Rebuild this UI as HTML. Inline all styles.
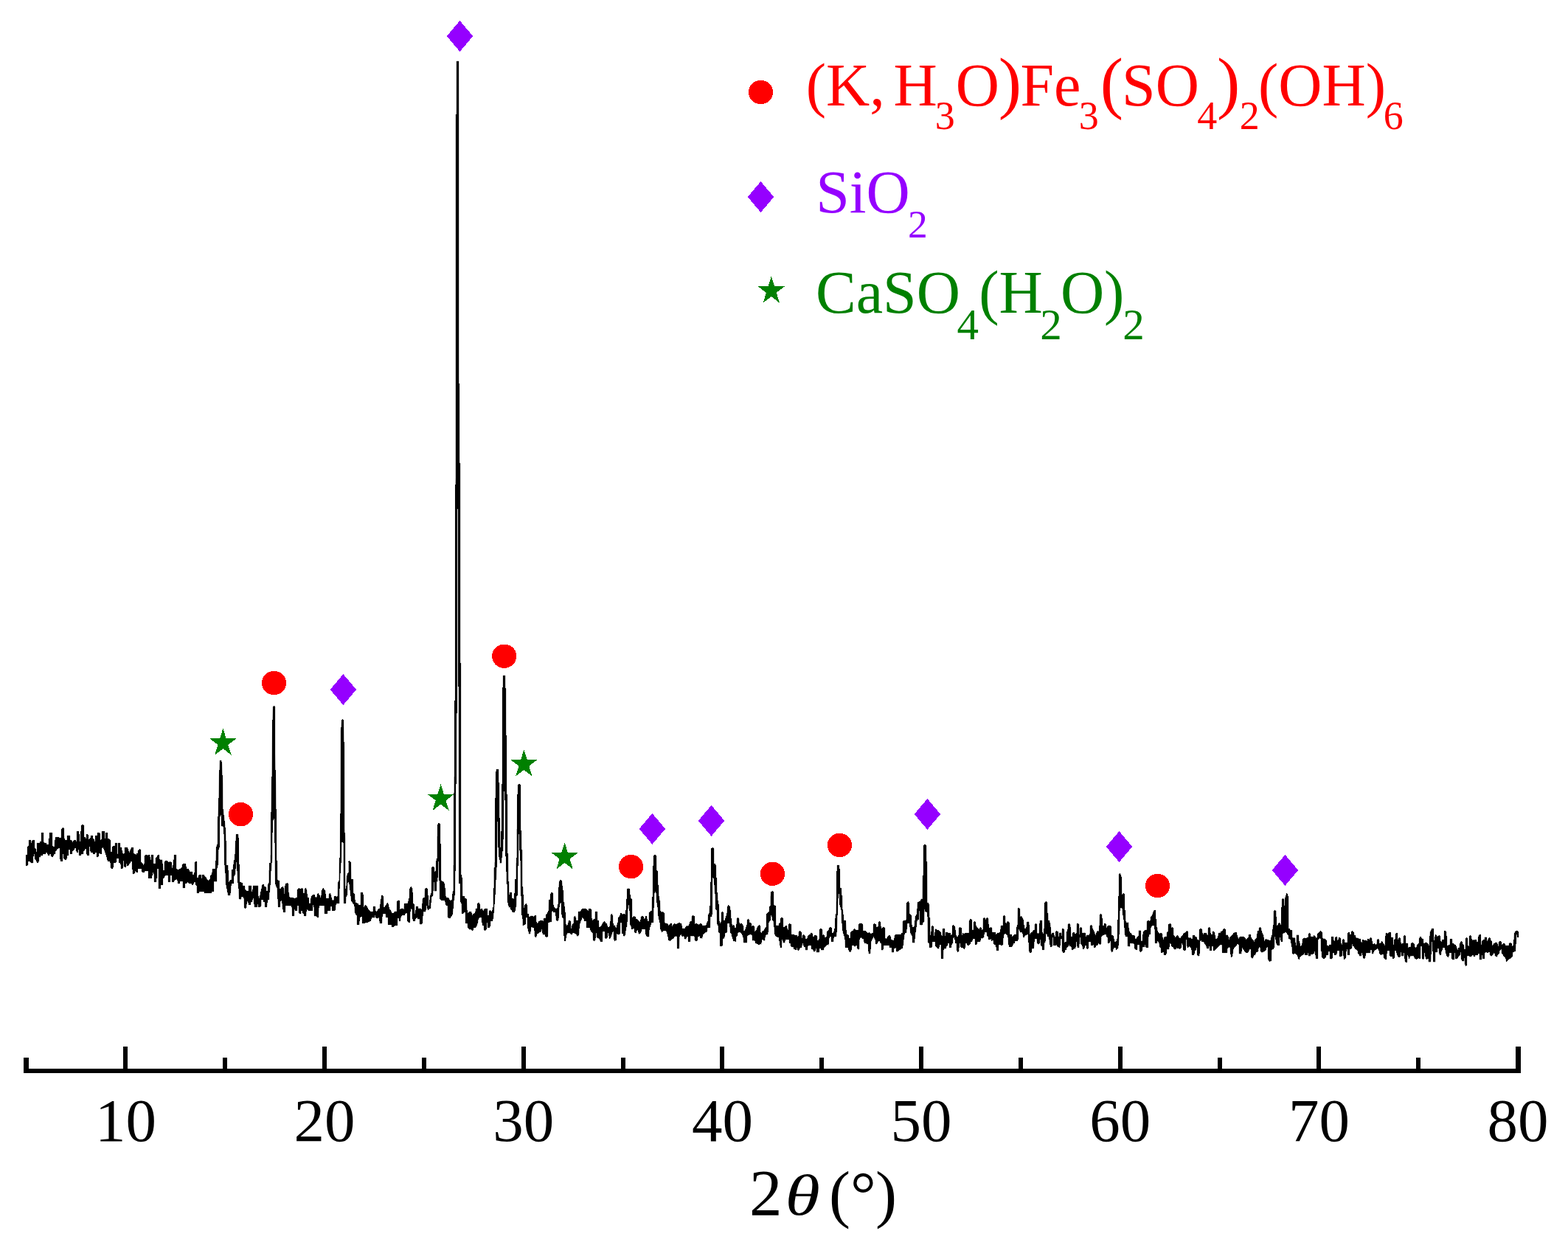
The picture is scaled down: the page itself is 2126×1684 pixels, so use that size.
<!DOCTYPE html>
<html lang="en">
<head>
<meta charset="utf-8">
<title>XRD pattern</title>
<style>
html,body{margin:0;padding:0;background:#fff;}
body{width:2126px;height:1684px;overflow:hidden;}
svg{display:block;}
text{font-family:"Liberation Serif",serif;}
</style>
</head>
<body>
<svg width="2126" height="1684" viewBox="0 0 2126 1684">
<rect x="0" y="0" width="2126" height="1684" fill="#ffffff"/>
<g id="curve" shape-rendering="crispEdges">
<path fill="#000" stroke="#000" stroke-width="0.3" stroke-linejoin="round" d="M35.3,1159.3 L37.1,1159.3 L37.1,1148.3 L39.2,1145.9 L39.2,1139.2 L41.8,1139.2 L41.8,1144 L44.1,1139.2 L46.7,1139.2 L46.7,1148.9 L48.8,1151.4 L48.8,1155.1 L50.2,1155.1 L50.2,1143.1 L54.3,1143.1 L54.3,1141 L56.1,1141 L56.1,1129.1 L58.9,1129.1 L58.9,1140.4 L60.4,1143.1 L62.8,1143.1 L63.4,1145.3 L65.9,1145.3 L65.9,1136.7 L67.1,1136.7 L67.1,1129.1 L70.8,1129.1 L70.8,1147.1 L73.5,1148.3 L73.5,1150.2 L74.4,1139.2 L75.3,1135.2 L80,1135.2 L81.2,1136.1 L83,1135.5 L83,1125.1 L85.2,1122 L86.7,1123.2 L86.7,1133 L87.9,1139.2 L91,1139.2 L91,1133 L94.9,1133 L94.9,1139.2 L97.1,1139.2 L98.3,1142.2 L99.5,1140.4 L100.8,1139.2 L102.8,1139.2 L102.8,1141 L104.2,1141 L104.2,1127.2 L106.9,1127.2 L106.9,1131.2 L107.7,1131.2 L107.7,1141 L109.3,1141 L109.3,1127.2 L110.2,1127.2 L110.2,1119 L111.8,1118.1 L113.8,1119 L113.8,1135.2 L116,1135.5 L116,1136.7 L117.3,1136.7 L117.3,1131.2 L118.5,1131.2 L119.7,1132.4 L119.7,1139.2 L121.6,1137.3 L123.1,1135.5 L123.1,1133 L125.8,1133 L125.8,1136.7 L127.7,1138.5 L128.3,1141 L129.3,1141 L129.3,1133 L132,1133 L132,1129.1 L135,1129.1 L135.6,1130.6 L135.6,1139.2 L136.8,1139.2 L138.1,1136.7 L138.1,1127.2 L141.7,1127.2 L141.7,1136.7 L143,1136.7 L143,1129.1 L145.8,1129.1 L145.8,1137.3 L147.9,1137.3 L149.9,1139.2 L149.9,1155.1 L150.7,1155.1 L150.9,1161.2 L152.1,1148.9 L153.4,1147.1 L155.8,1147.1 L156.1,1143.1 L158.6,1143.1 L158.6,1157.5 L160.1,1157.5 L160.1,1143.1 L162.8,1143.1 L162.8,1148.9 L165,1148.9 L165.6,1153.8 L166.8,1157.5 L168,1157.5 L169,1156.3 L169,1149.2 L172.9,1149.2 L174.4,1153.2 L175.4,1156.3 L176.6,1153.2 L178.1,1149.2 L180.7,1149.2 L180.7,1156.5 L183.3,1158.1 L184.6,1159.3 L185.2,1157.3 L187,1157.3 L187,1153.8 L189.5,1151.1 L190.9,1152.6 L190.9,1167.9 L192.5,1169.7 L194.4,1172.8 L195.8,1171 L195.8,1161.2 L197,1159.3 L199.6,1159.3 L199.6,1161.2 L200.8,1159.3 L203.3,1159.3 L203.8,1165.5 L205,1165.5 L205,1159.3 L207.8,1159.3 L207.8,1171 L210.9,1171 L210.9,1163.6 L212.7,1161.8 L213.9,1159.3 L215.8,1159.3 L215.8,1163.6 L217.2,1165.5 L219.7,1165.5 L220.7,1172.2 L221.3,1179.5 L222.7,1179.5 L222.7,1170.4 L224,1167.1 L226.8,1167.1 L228,1168.5 L229.5,1169.1 L230.4,1168.3 L232.5,1169.1 L232.9,1176.5 L233.9,1176.5 L234.7,1172.2 L234.7,1165.5 L236,1165.5 L236,1159.3 L238.8,1159.3 L238.8,1178.3 L240.2,1178.3 L241.5,1179.5 L243.9,1178.3 L246.4,1176.5 L247.2,1172.2 L248.2,1171.2 L251.6,1171.2 L252.5,1174.6 L253.3,1178.3 L255.5,1178.3 L257,1180.1 L257,1182 L260.8,1182 L261.3,1186.3 L262.9,1186.3 L262.9,1184.4 L264.1,1182.6 L264.1,1169.1 L265.7,1168.3 L266.8,1168.5 L266.8,1190.5 L269,1189.9 L269.6,1186.3 L272.7,1186.3 L272.7,1190.5 L273.9,1190.5 L273.9,1186.3 L276.6,1186.3 L278.2,1188.7 L280,1189.9 L280,1191.2 L282.2,1194.2 L284.9,1191.8 L285.3,1187.5 L287.1,1185.6 L288.1,1178.3 L291.8,1178.3 L292.4,1170.4 L293.2,1148.9 L295.1,1142.8 L295.2,1113.7 L296.3,1091.1 L297.2,1051.3 L298.1,1031.1 L300.3,1031.1 L300.8,1036.6 L302.1,1062.3 L302.4,1096.6 L304.3,1111.3 L306.1,1127.2 L306.7,1146 L306.7,1173.4 L309.4,1173.4 L309.8,1196.7 L312.2,1193.6 L314,1193 L314.3,1179.5 L315.9,1178.3 L317.1,1166.7 L318.3,1166.1 L318.7,1151.4 L319.6,1139.2 L320.2,1131.2 L322.9,1131.2 L323.5,1135.5 L323.8,1171 L324.7,1172.2 L324.7,1195.4 L328.7,1197.3 L329.3,1200.9 L331.8,1201.3 L332.4,1206.4 L334.8,1208.3 L337.1,1208.3 L337.1,1200.9 L340.7,1200.9 L340.7,1208.9 L342.2,1208.9 L343,1200.9 L349.8,1200.9 L349.8,1212.6 L351.4,1218.1 L352.2,1215 L353.8,1207.7 L355.6,1199.7 L357.5,1199.1 L358.7,1202.2 L360.8,1202.8 L361.2,1208.3 L363,1208.3 L363.6,1197.9 L364.5,1197.3 L364.5,1180.1 L365.4,1179.5 L365.4,1170.4 L366.7,1169.7 L366.7,1160 L367.3,1158.7 L367.3,1110 L368.5,1053.8 L369.4,979.1 L370.3,958.3 L371.6,957.1 L372.8,957.7 L372.9,1021.9 L374,1062.3 L374.6,1102.7 L374.7,1166.1 L375.8,1166.7 L376.1,1193 L378.7,1194.2 L378.9,1205.2 L380.7,1204.6 L382,1202.8 L383.8,1202.2 L384.6,1204 L385.6,1212.6 L386.2,1201.6 L387.5,1197.9 L389.3,1197.3 L390.9,1198.5 L391.1,1207.7 L392.7,1216.8 L397.9,1217.5 L399.1,1218.1 L402.8,1216.8 L403,1206.4 L405.2,1204 L406.8,1205.8 L407.6,1205.2 L409.5,1204.2 L410.7,1205.2 L411,1211.3 L412.5,1210.7 L413.4,1204.6 L415,1204 L416.2,1207.7 L416.8,1216.8 L418.7,1217.5 L419,1224.8 L421.1,1224.8 L421.7,1215.6 L424.4,1213.2 L426.6,1213.5 L427.2,1216.2 L429.1,1217.5 L430.3,1212.6 L431.5,1211.1 L433.3,1213.8 L434,1215.6 L435.2,1219.9 L435.8,1207.7 L438.2,1204 L441.3,1208.3 L441.9,1218.1 L445.6,1218.1 L446.2,1212 L448,1211.1 L449.2,1215.6 L450.5,1219.9 L452.3,1221.7 L452.9,1215.6 L455.4,1215 L456.6,1216.2 L457.8,1215 L458.4,1196.7 L459.6,1194.2 L460,1163.6 L461.1,1163 L461.5,1105.1 L462.1,991.3 L463.3,976.7 L464.5,975.4 L465.8,976.7 L466.7,1013.4 L467.2,1123.5 L468,1138.2 L468.2,1205.2 L469.4,1205.2 L469.7,1193 L470.7,1185 L472.5,1183.2 L472.5,1168.5 L473.7,1167.1 L475.6,1169.1 L476.2,1191.8 L478.6,1192.4 L479,1210.1 L481.1,1212.6 L481.7,1223.6 L485.3,1224.8 L486,1227.2 L489,1227.2 L489,1210.1 L491.7,1210.1 L492.7,1213.8 L492.9,1232.1 L494.2,1228.5 L495.4,1227.2 L497,1227.9 L498.8,1232.1 L501.2,1234.6 L502.5,1236.4 L505.5,1236.4 L506.1,1229.1 L508.6,1229.1 L509.2,1235.2 L510.4,1236.4 L513.5,1232.1 L515.1,1231.5 L515.7,1223.6 L517.2,1214.4 L518.4,1213.5 L519.6,1215.6 L520.6,1230.9 L523.3,1227.2 L525.1,1224.2 L526.3,1224.8 L528.2,1233.4 L530,1234 L531,1238.3 L534.1,1238.3 L534.7,1235.8 L538.1,1235.8 L538.4,1222.4 L540.2,1220.3 L541.8,1221.7 L542,1234 L543.9,1232.1 L545.7,1231.5 L547.5,1232.8 L548.1,1225.4 L553,1224.8 L554.3,1218.1 L555.1,1217.5 L555.5,1204.6 L557.3,1202.2 L559.4,1204.6 L559.8,1224.8 L561.6,1226 L562.2,1239.5 L563.4,1235.8 L564,1229.1 L566.5,1229.1 L567.1,1232.1 L568.3,1231.5 L570.4,1231.5 L571.1,1233.4 L572.4,1232.8 L572.6,1220.5 L573.8,1217.5 L575.7,1216.8 L576.3,1205.2 L578.1,1204 L579.7,1205.2 L580,1213.8 L580.8,1214.4 L581.2,1227.9 L582.4,1227.2 L582.6,1215.6 L584.2,1212 L585.1,1210.1 L585.5,1176.5 L587.1,1174.9 L588.8,1176.5 L589.1,1182 L591,1180.8 L591.6,1164.2 L592.6,1163.6 L592.6,1134.3 L593.4,1133.6 L593.4,1117.7 L595,1115.9 L596.8,1117.7 L596.8,1143.4 L597.7,1144.7 L597.9,1191.8 L598.9,1194.8 L601.4,1195.4 L602.6,1197.9 L603.8,1206.4 L604.4,1215 L605.6,1217.5 L608.1,1217.2 L609.9,1220.5 L611.8,1220.5 L613.2,1219.3 L613.6,1209.5 L614.5,1208.3 L614.5,1173.4 L615.4,1172.8 L615.4,1106 L615.6,1053.5 L616.3,1052.9 L616.4,950.1 L617.3,948.9 L617.4,659.5 L617.9,647.3 L618,155.4 L619,154.2 L619.1,83 L622,83 L622.2,157.9 L622.3,520 L622.8,520 L622.9,627.7 L624,627.7 L624.1,898.1 L624.9,899.3 L625,1100 L625.1,1185.6 L625.8,1186.3 L626.7,1190.5 L627.1,1215 L629.5,1215.3 L630.7,1218.1 L632.6,1218.7 L633.2,1228.5 L633.8,1238.3 L636.2,1236.4 L639.3,1236.4 L639.9,1241.9 L641.7,1238.9 L644.2,1238.3 L645,1232.1 L647.2,1231.5 L647.5,1224.8 L649.1,1223.9 L650.6,1226 L650.9,1232.8 L654,1232.1 L655.2,1235.8 L656.4,1232.8 L657.6,1232.1 L660.7,1232.1 L661,1241.9 L662.5,1240.7 L663.2,1235.2 L664.6,1234.3 L666.2,1235.8 L667.4,1235.2 L667.7,1230.9 L668.7,1229.7 L668.7,1205.2 L669.5,1204 L669.5,1177.1 L670.5,1175.9 L670.5,1169.7 L671.2,1168.5 L671.4,1106 L671.5,1082.3 L672.1,1081 L672.3,1048 L672.9,1043.1 L676,1043.1 L676.1,1060.2 L676.9,1061.5 L677,1106 L677.2,1108.6 L677.8,1109.8 L678,1148.9 L679.1,1148.9 L679.3,1127.5 L680.2,1126.9 L680.3,1106 L680.4,1063.3 L681.1,1062.7 L681.3,932.4 L682.1,931.8 L682.2,915.9 L684.9,915.9 L685.1,933 L686,933.6 L686.2,996.6 L686.8,997.2 L686.9,1076.1 L687.7,1076.8 L687.9,1106 L688,1156.9 L688.8,1157.5 L689.5,1194.8 L690.1,1195.4 L690.3,1213.2 L691.3,1213.8 L691.4,1210.1 L693.7,1210.1 L694,1218.1 L696.2,1218.1 L696.8,1220.5 L697.2,1212 L698.4,1210.1 L698.5,1192.4 L699.6,1191.8 L699.7,1170.4 L700.5,1169.7 L700.6,1124.5 L701.2,1123.9 L701.3,1106 L701.5,1077.4 L702.3,1076.1 L702.4,1064.5 L703.2,1063.3 L705.1,1063.3 L705.9,1064.5 L706,1100 L706.1,1125.7 L706.8,1126.3 L707.2,1152 L708.1,1152.6 L708.4,1202.2 L709,1202.8 L709.6,1214.4 L710.3,1232.1 L711.5,1227.2 L713.3,1225 L714.8,1227.2 L715.2,1238.9 L716.7,1239.5 L717.2,1242.5 L718.8,1243.2 L719.4,1241.9 L721.9,1241.9 L723.7,1243.2 L724.9,1241.3 L726.8,1241.3 L727,1249.9 L729.2,1252.3 L730.4,1249.3 L732.3,1248.3 L735.3,1248.3 L736.8,1249.3 L737.2,1245.6 L739,1244.4 L740.2,1245.6 L740.5,1240.1 L742.1,1238.3 L743.9,1234.6 L744.5,1219.9 L746.1,1219.3 L746.4,1212 L747.8,1210.1 L749.7,1210.7 L750,1225.4 L751.2,1229.1 L753.1,1232.1 L755.5,1231.5 L756.8,1224.8 L757.4,1203.4 L758.6,1194.2 L760.1,1193 L761.6,1194.2 L762.3,1197.9 L762.9,1206.4 L763.7,1207.7 L764.1,1223 L765.1,1223.6 L765.9,1234.6 L766.8,1238.3 L767.2,1252.9 L768.4,1254.8 L770.2,1252.9 L770.8,1248.7 L772.7,1248 L773.9,1249.3 L774.3,1259.1 L775.1,1259.1 L775.7,1252.9 L777.6,1252.3 L778.2,1243.2 L780,1241.9 L780,1243.6 L780.8,1243.6 L781.3,1247.9 L783.5,1247.9 L784.1,1236.2 L786.5,1235.6 L789.6,1232.3 L793.9,1232 L796.3,1233.8 L797.9,1235 L798.4,1232.3 L801.2,1232.3 L802.1,1233.8 L802.4,1244.8 L803.6,1248.5 L804.5,1246.6 L806.7,1246 L807,1236.2 L809.8,1236.2 L810,1247.2 L811.6,1248.5 L812.2,1257 L814,1257 L815.9,1254 L817.7,1250.9 L819.6,1249.1 L821.4,1251.5 L823.2,1252.8 L823.8,1257.6 L826.3,1257 L827.5,1249.7 L828.1,1240.5 L829.6,1239.3 L830.8,1241.1 L831.2,1250.9 L832.4,1254.6 L834.2,1254.6 L834.8,1258.3 L836.1,1257.6 L836.7,1252.8 L837.9,1249.7 L838.5,1243.6 L840.4,1241.7 L841,1238.4 L842.2,1238.1 L844,1239.9 L845.9,1239.3 L847.7,1239.9 L848.3,1234.4 L849.3,1233.8 L849.5,1219.1 L850.4,1217.9 L850.4,1205.6 L852,1204.2 L853.8,1205.6 L854.2,1213 L855,1214.2 L855.3,1217.9 L856.9,1219.1 L857.1,1244.8 L858.7,1243 L859.9,1242.1 L861.8,1243.6 L862.4,1246 L864.8,1246.6 L866,1248.5 L867.3,1250.9 L868.5,1247.2 L869.1,1243 L870.6,1242 L872.5,1243 L873,1246 L874.6,1245.4 L875.5,1242.4 L877.1,1242.4 L877.9,1248.5 L879.5,1249.1 L880.1,1237.5 L882,1235.6 L883.8,1234.4 L884.2,1216.7 L885.3,1215.4 L885.3,1173.8 L886.2,1173.2 L886.2,1160.4 L888.1,1158.9 L889.9,1160.4 L890.2,1180 L891.7,1181.2 L892,1199.5 L893,1200.1 L893.6,1217.9 L894.8,1221.6 L895.4,1234.4 L897.2,1237.5 L897.9,1236.2 L899.7,1236.8 L900.9,1238.1 L901.2,1249.7 L902.1,1252.1 L904.6,1252.1 L905.8,1253.4 L906.4,1255.2 L908.3,1252.8 L909.5,1251.5 L910.7,1252.1 L911.3,1255.8 L913.2,1253.4 L914.4,1252.1 L916.2,1252.8 L918,1252.8 L919.9,1251.5 L921.7,1251.2 L924.4,1252.8 L924.8,1258.9 L928.4,1258.9 L930.3,1256.4 L931.5,1255.2 L933.3,1255.8 L934.6,1252.8 L935.8,1249.1 L937.4,1249.7 L938.2,1242.4 L939.8,1240.9 L941.5,1242.4 L941.9,1252.8 L944.4,1252.1 L946.2,1252.8 L947.4,1254 L948.6,1252.8 L950.1,1252.1 L951.7,1253.4 L952.9,1255.2 L957.2,1254.6 L958.4,1251.5 L959,1249.7 L959.9,1248.5 L960.3,1240.5 L961.5,1238.1 L962.1,1228.9 L963.1,1227.7 L963.3,1195.9 L964.3,1194.6 L964.3,1150.6 L966.1,1149 L968,1150.6 L968.2,1171.4 L969.7,1171.4 L970.7,1173.2 L970.9,1189.7 L971.9,1191 L972.1,1209.9 L973.1,1211.2 L973.7,1225.2 L974.6,1226.4 L974.9,1242.4 L975.8,1252.1 L976.8,1251.5 L978,1248.5 L978.2,1236.8 L979.5,1236.2 L980.7,1236.8 L981.1,1247.9 L982.9,1247.9 L984.1,1242.4 L985.3,1240.5 L986.3,1228.9 L987.8,1227.1 L989.6,1228.9 L990,1233.2 L990.8,1233.8 L991.2,1244.8 L992.1,1246 L992.7,1255.8 L993.9,1254.6 L995.1,1254 L996.4,1258.3 L997.8,1257.6 L998.8,1250.9 L999.4,1245.4 L1000.6,1244.2 L1002.1,1246 L1002.5,1250.9 L1003.7,1252.8 L1004.9,1251.5 L1006.8,1253.4 L1008,1255.8 L1008.6,1262.5 L1010.4,1260.7 L1011.6,1257 L1012.9,1253.4 L1013.2,1247.2 L1014.5,1246 L1015.9,1247.2 L1016.2,1250.9 L1018.4,1251.5 L1019.2,1255.8 L1020.8,1255.2 L1022.7,1255.8 L1023.5,1262.5 L1025.1,1261.9 L1026.9,1257 L1028.4,1255.2 L1030,1254 L1030,1254.6 L1031,1256.4 L1031.3,1264.4 L1032.8,1265 L1033.7,1262.5 L1035.3,1261.9 L1037.1,1258.9 L1038.4,1257.6 L1039,1256.4 L1039.2,1239.3 L1041.4,1237.5 L1043,1235.6 L1043.2,1229.5 L1044.5,1228.3 L1044.5,1215.4 L1045.1,1214.2 L1045.4,1209.3 L1047.2,1208.1 L1048.9,1209.3 L1049.1,1226.4 L1050.6,1227.7 L1051.8,1228.3 L1052.1,1254.6 L1055.7,1255.2 L1056.1,1252.8 L1057.3,1251.5 L1058.2,1250.9 L1058.5,1245 L1060,1243.9 L1061.6,1245 L1061.8,1257 L1063.4,1257.6 L1064.3,1256.1 L1065.9,1255.2 L1067.1,1255.8 L1067.7,1260.7 L1068.9,1260.7 L1069.3,1253.4 L1070.8,1252.1 L1072.6,1253.4 L1072.9,1266.8 L1074.4,1267.4 L1076.3,1266.8 L1077.5,1268 L1080.6,1268 L1081.2,1269.9 L1082.4,1269.9 L1083,1263.8 L1084.8,1262.2 L1086.7,1263.8 L1087.1,1271.7 L1087.9,1271.7 L1088.5,1268 L1090,1267.2 L1091.6,1268.7 L1092.2,1272.9 L1094,1273.6 L1094.9,1270.5 L1095.9,1268 L1097.7,1267.4 L1098.9,1266.8 L1099.3,1265 L1101.4,1265 L1102,1269.9 L1103.8,1269.9 L1104.4,1268.3 L1106.3,1268 L1107.9,1269.3 L1108.3,1275.4 L1109.9,1274.8 L1110.8,1272.3 L1111.2,1260.1 L1113,1258.9 L1114.8,1260.7 L1115.2,1268 L1116.7,1267.4 L1117.9,1268.7 L1118.5,1271.1 L1119.7,1270.5 L1120.9,1269.3 L1121.6,1262.5 L1123.4,1261.3 L1124.2,1258.3 L1125.8,1257 L1127.7,1258.3 L1128,1265.6 L1129.5,1265 L1130.7,1263.2 L1131.3,1259.5 L1132.3,1258.3 L1132.6,1240.5 L1133.5,1239.3 L1133.8,1222.8 L1134.4,1221.6 L1134.4,1181.2 L1135,1180.6 L1135,1173.2 L1137.7,1173.2 L1137.8,1177.5 L1138.7,1178.7 L1138.9,1203.2 L1140.5,1204.4 L1141.1,1213.6 L1142,1214.2 L1142.4,1232.6 L1143.6,1241.1 L1144.2,1247.9 L1146.6,1248.2 L1147.2,1255.8 L1147.9,1266.8 L1149.7,1267.4 L1150.9,1268.7 L1151.2,1272.3 L1152.8,1271.7 L1153.4,1263.8 L1155.2,1261.9 L1156.4,1262.5 L1157.6,1260.1 L1158.9,1259.2 L1160.1,1260.7 L1161.9,1261.3 L1163.8,1260.7 L1164.4,1253.4 L1165.6,1252.1 L1168.7,1252.1 L1169.9,1254 L1170.3,1261.9 L1171.7,1262.5 L1172.9,1261.9 L1174.8,1263.8 L1176.6,1265 L1178.4,1264.4 L1180.3,1265.6 L1182.1,1265.6 L1183.7,1265 L1184.2,1253.4 L1185.8,1252.1 L1187.6,1253.4 L1188.2,1256.4 L1189.5,1257 L1190.7,1255.8 L1191.1,1250.3 L1192.5,1249.1 L1194,1250.3 L1194.4,1255.8 L1195.2,1258.9 L1196.8,1257.6 L1198.4,1257 L1199.9,1258.3 L1200.1,1272.3 L1201.7,1272.9 L1203.5,1269.9 L1204.8,1268.7 L1206,1268 L1207.4,1269.3 L1208.4,1273.6 L1210.3,1274.8 L1212.1,1274.8 L1213.1,1268 L1214.5,1267.2 L1221.3,1267.2 L1221.9,1265.6 L1223.7,1265 L1224.1,1249.1 L1225.6,1247.9 L1227.4,1248.5 L1228.6,1247.2 L1229.2,1224.6 L1231.4,1222.2 L1232.9,1224 L1233.1,1239.3 L1234.7,1239.9 L1235.6,1241.1 L1236,1249.7 L1236.8,1257 L1239,1257.6 L1240.2,1253.4 L1240.8,1242.4 L1242.1,1241.1 L1243.3,1239.3 L1243.7,1226.4 L1244.5,1223.4 L1246.4,1222.2 L1248.2,1221.6 L1248.8,1219.1 L1250,1218.5 L1250.6,1219.7 L1251,1187.3 L1251.9,1186.7 L1252.1,1146.3 L1253.9,1144.8 L1255.9,1146.3 L1256.1,1167.7 L1257,1168.9 L1257.4,1224 L1259.2,1224.6 L1259.8,1226.4 L1260.1,1243.6 L1261,1244.8 L1261.3,1268 L1262.3,1267.4 L1262.9,1255.8 L1264.3,1255.2 L1265.7,1256.4 L1266.2,1269.3 L1267.2,1268.7 L1267.8,1259.5 L1269.6,1259.5 L1270.6,1261.3 L1272.7,1261.3 L1273.9,1262.5 L1275.7,1263.8 L1276.3,1268 L1277.6,1268.7 L1278.2,1259.5 L1280,1258.9 L1280,1259.1 L1281,1259.7 L1281.3,1270.7 L1282.2,1264 L1284.4,1264 L1286.5,1265.2 L1288.4,1265.2 L1289.6,1268.3 L1291,1267 L1291.4,1255.4 L1292.6,1253.9 L1294.1,1255.4 L1295.1,1257.9 L1295.7,1262.8 L1296.7,1269.5 L1298.8,1270.1 L1300,1267 L1300.3,1258.5 L1301.8,1257 L1303.6,1258.5 L1304,1267.6 L1304.9,1268.3 L1305.5,1265.2 L1307.3,1265.8 L1309.2,1265.2 L1313.8,1265.2 L1314,1249.3 L1315.3,1246.2 L1316.5,1246.2 L1317.7,1247.5 L1318,1260.9 L1319.9,1260.9 L1320.2,1250.5 L1321.4,1249.3 L1322.9,1250.5 L1323.2,1254.2 L1324.4,1257.2 L1326.3,1258.5 L1327.3,1260.9 L1328.1,1258.5 L1329.3,1257.2 L1330.8,1258.5 L1331.2,1261.5 L1332.6,1259.7 L1333,1245.6 L1334.2,1244.2 L1335.8,1245.6 L1336.1,1248.1 L1337.1,1245.6 L1338.5,1244.2 L1340,1245.6 L1340.4,1251.7 L1341,1257.9 L1342.8,1257.9 L1344,1257.2 L1344.9,1258.5 L1345.2,1264 L1349.5,1264.3 L1350.1,1267 L1351.7,1266.4 L1352.2,1265.2 L1355,1264.6 L1356.3,1262.8 L1356.9,1255.4 L1358.7,1254.8 L1359.9,1255.4 L1360.3,1242 L1361.8,1241.1 L1363,1242 L1363.2,1251.1 L1364.5,1252.4 L1365.2,1250.5 L1366.7,1249.3 L1368.5,1250.5 L1369.1,1267 L1371.6,1267 L1372.2,1270.1 L1373.8,1268.9 L1375.2,1267 L1377.7,1267 L1378.3,1257.2 L1379.5,1254.2 L1380.1,1231.6 L1381.3,1230.9 L1382.8,1232.2 L1383.2,1243.2 L1384.4,1242.3 L1386.2,1243.8 L1387.5,1246.8 L1388.1,1254.2 L1388.9,1254.8 L1389.3,1259.1 L1390.9,1258.5 L1391.7,1256 L1392.4,1250.5 L1393.8,1249.3 L1395.4,1250.5 L1395.8,1263.4 L1396.6,1267 L1397.9,1264.6 L1399.7,1264 L1400.9,1261.5 L1402.8,1260.9 L1403.1,1253.6 L1404.6,1252.1 L1405.8,1253 L1406.1,1265.2 L1407.6,1265.8 L1408.9,1264.6 L1409.2,1254.2 L1410.1,1248.1 L1412.8,1248.1 L1413.2,1262.8 L1414.1,1267 L1415.4,1264.6 L1416.2,1224.2 L1418,1222 L1419.9,1223.6 L1420.1,1237.7 L1421.1,1238.3 L1421.5,1248.1 L1422.9,1248.1 L1423.6,1251.1 L1424.4,1254.8 L1425.1,1267 L1426.6,1265.2 L1427.8,1264.3 L1429.3,1265.2 L1429.7,1270.7 L1431.3,1270.1 L1431.5,1263.4 L1432.7,1262.1 L1434.6,1263.4 L1434.8,1270.1 L1436,1269.5 L1436.4,1264.6 L1438.8,1264.6 L1439.5,1269.5 L1440.1,1259.7 L1441.3,1259.1 L1442.8,1260.3 L1443.1,1278 L1444.4,1277.4 L1445.9,1276.2 L1446.2,1263.4 L1447.4,1262.1 L1448,1253.6 L1449.5,1252.1 L1451.1,1253.6 L1451.7,1257.9 L1452.1,1270.1 L1453.5,1270.1 L1454.1,1264.6 L1456.6,1264.3 L1457.2,1266.4 L1459,1266.4 L1459.6,1264.6 L1460.3,1252.4 L1461.5,1252 L1463,1253 L1463.3,1270.7 L1463.9,1259.7 L1464.5,1257.9 L1465.8,1257.2 L1466.7,1258.5 L1467.2,1264.6 L1468.8,1265.2 L1470,1264.3 L1471.6,1265.2 L1471.9,1272.5 L1473.1,1268.3 L1474.3,1267.6 L1476.8,1267.6 L1477.4,1268.3 L1478,1255.4 L1479.5,1254.2 L1480.7,1255.4 L1481.4,1258.5 L1482.9,1262.1 L1484.1,1264 L1485.3,1268.3 L1487.2,1263.4 L1488.4,1262.1 L1490.2,1262.8 L1491.2,1240.1 L1492.4,1238.9 L1493.9,1240.1 L1494.2,1245 L1494.9,1245.6 L1495.1,1255.4 L1496.4,1255.4 L1497,1252.4 L1498.8,1252.1 L1499.8,1253.6 L1500,1258.5 L1501.9,1255.4 L1503.7,1254.8 L1505.5,1255 L1506.5,1256 L1506.8,1267.6 L1508.6,1268.3 L1510.1,1269.5 L1511,1276.8 L1512.9,1276.8 L1514.1,1275.6 L1514.5,1272.5 L1515.1,1271.9 L1515.3,1247.5 L1516.2,1246.8 L1516.4,1215 L1517.2,1214.4 L1517.2,1185.7 L1518.4,1184.2 L1519.6,1185.7 L1519.8,1188.1 L1520.8,1188.7 L1521.1,1213.2 L1522,1212 L1523,1211 L1524.5,1212 L1524.9,1234 L1525.7,1234.6 L1526.3,1248.1 L1527.2,1251.1 L1528.8,1251.1 L1530,1250.5 L1530,1252.4 L1530.8,1261.5 L1532.2,1264.6 L1534.1,1265.8 L1535.3,1268.3 L1538.4,1268.3 L1539,1272.5 L1540.8,1272.5 L1542.6,1269.5 L1543.9,1268.3 L1544.1,1261.5 L1546.7,1261.5 L1547.2,1275.6 L1549.1,1275.6 L1549.6,1264.6 L1551.2,1262.1 L1553,1261.2 L1554.9,1260.9 L1555.2,1249.3 L1556.7,1248.1 L1558.2,1248.7 L1559.8,1248.4 L1560.1,1243.2 L1562.2,1240.7 L1563.4,1237.7 L1564,1234.6 L1566.7,1234.2 L1567.1,1245.6 L1568,1246.8 L1568.3,1257.2 L1569.2,1257.9 L1569.6,1262.8 L1571.4,1265.2 L1572.6,1265.8 L1573.8,1265.2 L1575.7,1265.6 L1576.3,1270.7 L1577.3,1274.4 L1578.7,1270.7 L1579.3,1270.1 L1581.8,1270.1 L1582.4,1264 L1583.6,1263.4 L1584.2,1253.6 L1586.1,1252.1 L1587.9,1253 L1588.3,1257.9 L1589.7,1257.2 L1591,1258.5 L1591.3,1268.3 L1592.8,1269.5 L1594,1272.5 L1594.9,1268.9 L1596.5,1268 L1597.7,1269.5 L1598.9,1271.9 L1600.8,1271.9 L1602.2,1268.9 L1603.8,1268.3 L1605,1265.2 L1606.9,1264.6 L1609.3,1262.1 L1610.5,1263.4 L1610.8,1270.7 L1612.4,1271.9 L1613.6,1271.3 L1615.4,1272.5 L1616.7,1273.2 L1617.3,1268.3 L1619.7,1268 L1620.3,1270.1 L1622.2,1270.1 L1623,1273.2 L1624.6,1274.4 L1625.5,1275.6 L1626.2,1260.3 L1627.7,1259.1 L1629.5,1259.7 L1630.1,1263.4 L1631.1,1268.3 L1632.3,1265.2 L1636.2,1265.2 L1636.8,1268.3 L1637.7,1267.6 L1638.1,1258.5 L1639.7,1257.2 L1641.1,1258.5 L1641.4,1265.2 L1643,1268.3 L1643.8,1266.4 L1644.2,1262.8 L1646,1262.8 L1647.2,1265.2 L1647.9,1270.7 L1648.5,1273.2 L1650.3,1272.5 L1651.5,1269.5 L1651.9,1265.8 L1653.4,1264.6 L1654.6,1265.2 L1655.8,1262.1 L1657,1262.8 L1658.9,1259.7 L1660.1,1259.1 L1661.7,1260.3 L1662.2,1267.6 L1664.4,1267.6 L1665.6,1270.7 L1666.2,1275 L1667.1,1270.7 L1668.7,1270.1 L1670.3,1267.6 L1671.7,1267 L1672.9,1264.6 L1676.6,1264.3 L1677.2,1267 L1678.4,1270.7 L1679.7,1273.2 L1680.9,1270.1 L1686.4,1270.1 L1688.2,1271.9 L1689.5,1273.8 L1691.3,1271.9 L1692.8,1270.7 L1693.1,1267.6 L1695.6,1267 L1696.2,1270.7 L1698,1273.2 L1699.9,1275.6 L1700.5,1276.8 L1701.1,1274.4 L1702.9,1272.5 L1704.1,1270.7 L1704.8,1262.8 L1706.6,1261.5 L1707.2,1258.5 L1708.4,1257.2 L1709.9,1258.5 L1710.6,1262.1 L1712.1,1267 L1713.3,1268.3 L1713.9,1276.8 L1715.2,1274.4 L1716.4,1273.2 L1718.2,1273.8 L1719.7,1274.4 L1721.3,1275 L1723.1,1275 L1723.7,1269.5 L1724.9,1267 L1725.6,1258.5 L1726.5,1254.8 L1727,1235.2 L1728.6,1234 L1730.4,1235.2 L1730.7,1254.8 L1732.3,1254.8 L1733.1,1252.4 L1734.4,1251.1 L1735.6,1252.4 L1736,1254.2 L1737.2,1253.6 L1737.5,1230.3 L1738.2,1229.7 L1738.4,1219.3 L1739.6,1218.3 L1740.8,1219.3 L1741.2,1227.9 L1742.1,1227.9 L1742.4,1216.9 L1743.3,1216.3 L1743.7,1212.6 L1744.5,1211 L1745.7,1212.6 L1746.1,1214.4 L1747,1215 L1747.3,1258.5 L1748.8,1259.7 L1750,1261.2 L1751.9,1261.5 L1752.2,1270.7 L1753.7,1271.9 L1754.9,1271.3 L1756.1,1272.5 L1756.8,1282.3 L1757.6,1281.7 L1758,1267.6 L1760.8,1267.6 L1761.3,1275.6 L1762.3,1276.8 L1762.9,1284.2 L1764.1,1282.3 L1765.3,1281.1 L1765.9,1273.8 L1767.8,1271.9 L1769,1271.3 L1770.2,1272.5 L1772,1271.3 L1773.9,1270.7 L1774.3,1265.8 L1775.7,1265 L1776.7,1265.8 L1776.9,1269.5 L1778.8,1270.1 L1780,1270.1 L1780,1271.3 L1781.6,1268.3 L1783.5,1269.5 L1784.7,1271.9 L1785.9,1270.7 L1786.2,1265.8 L1787.7,1265.2 L1789,1263.4 L1790.6,1261.9 L1792.6,1264 L1793,1271.3 L1794.5,1272.5 L1796.3,1272.5 L1798.8,1275 L1799.1,1281.7 L1800.6,1282.3 L1801.8,1282.9 L1802.4,1281.1 L1804.9,1280.5 L1805.2,1270.1 L1807.9,1270.1 L1808.5,1275 L1809.8,1276.2 L1810.4,1271.3 L1811.6,1270.1 L1813.1,1270.7 L1813.4,1275 L1814.7,1273.8 L1815.3,1271.3 L1817.1,1271.3 L1818,1273.2 L1818.3,1278.7 L1819.6,1281.1 L1820.2,1274.4 L1821.4,1273.2 L1822.9,1274.4 L1823.2,1277.4 L1824.4,1278 L1826.9,1278 L1827.3,1265.2 L1828.7,1264 L1830,1264.6 L1830.2,1267 L1831.8,1267.6 L1832.2,1263.4 L1833.4,1262.1 L1835.5,1264 L1836.1,1267.6 L1837.5,1268.3 L1838.5,1270.7 L1839.7,1271.9 L1841,1271.3 L1842.2,1272.5 L1844.9,1273.2 L1845.2,1276.8 L1846.5,1278 L1847.1,1274.4 L1848.9,1274.4 L1849.5,1275 L1850.8,1274.4 L1852.6,1275 L1853.2,1276.8 L1854.2,1273.2 L1855.6,1273.2 L1856.3,1274.4 L1857.1,1272.5 L1858.3,1271.3 L1859.9,1271.9 L1860.3,1275 L1861.2,1279.9 L1862.7,1280.3 L1863.6,1279.3 L1864.8,1279.9 L1866,1281.7 L1866.7,1278.7 L1867.3,1274.4 L1868.5,1273.2 L1869.7,1273.8 L1870.1,1279.3 L1872.2,1278.7 L1873.4,1276.2 L1874.6,1277.4 L1875.8,1279.3 L1877.1,1281.1 L1877.7,1282.3 L1878.3,1271.3 L1878.9,1265.2 L1880.7,1265.2 L1881.3,1265.8 L1883.2,1264.3 L1885.6,1264.3 L1886,1270.7 L1888.7,1271.3 L1888.9,1280.5 L1890.2,1281.1 L1890.5,1274.4 L1891.7,1273.2 L1892.1,1265.8 L1893.6,1265.2 L1894.8,1265.2 L1895,1275.6 L1896,1272.5 L1897.2,1271.3 L1898.7,1271.9 L1899.1,1276.8 L1900.3,1279.9 L1901.5,1279.3 L1902.8,1278.7 L1903.1,1268.9 L1904.6,1268 L1905.8,1268.9 L1906.1,1278.7 L1908.9,1279.3 L1909.2,1284.8 L1910.7,1284.2 L1912.5,1283.9 L1913.2,1279.3 L1915,1278 L1916.8,1278.7 L1917.8,1279.9 L1918.3,1284.2 L1919.9,1285.4 L1921.1,1282.3 L1922.3,1279.9 L1923.9,1278.7 L1924.4,1271.9 L1925.6,1270.1 L1927.2,1270.7 L1927.8,1272.5 L1929.7,1273.2 L1930,1278.7 L1931.5,1278.7 L1932.7,1278 L1934.6,1278.3 L1936.4,1279.9 L1937.6,1281.7 L1938.2,1271.9 L1939.1,1263.4 L1940.1,1261.5 L1941.1,1259.1 L1943.7,1259.1 L1944,1275.6 L1945.2,1275 L1945.6,1268.3 L1946.8,1267 L1948,1268.3 L1948.4,1270.1 L1949.9,1268.9 L1951.1,1268.3 L1952.6,1268.9 L1953.2,1276.2 L1954.8,1276.8 L1955.4,1274.4 L1957.8,1274.1 L1958.2,1262.4 L1959.6,1261.9 L1960.9,1263.4 L1961.1,1268.9 L1961.9,1269.5 L1962.1,1282.3 L1963.3,1282.9 L1963.9,1281.1 L1965.8,1281.1 L1966.1,1273.2 L1968.8,1273.2 L1969.2,1278.7 L1970.7,1279.3 L1972.5,1280.5 L1974.3,1282.3 L1975.6,1286 L1976.5,1287.8 L1977.4,1285.4 L1978.6,1284.8 L1979.2,1279.9 L1980.2,1277.4 L1981.4,1276.2 L1982.7,1277.4 L1983.1,1279.9 L1984.7,1281.7 L1985.6,1287.2 L1986.6,1286.6 L1987.2,1272.5 L1988.4,1271.3 L1989.9,1271.9 L1990.2,1282.3 L1991.7,1282.9 L1992.1,1269.5 L1993.3,1268.3 L1994.9,1268.9 L1995.1,1272.5 L1996.4,1275 L1997.6,1274.4 L1998.8,1275 L1999.4,1274.1 L2001.9,1274.4 L2002.5,1276.8 L2003.9,1277.4 L2004.3,1271.3 L2004.9,1267.6 L2007.6,1267.3 L2008,1281.1 L2009.2,1280.5 L2009.6,1275 L2011,1274.4 L2012.9,1273.8 L2013.2,1270.5 L2015.7,1270.5 L2015.9,1275.6 L2017.2,1276.2 L2017.8,1272.5 L2019.6,1271.3 L2020.8,1271.9 L2021.4,1274.4 L2022.7,1276.8 L2023.5,1281.7 L2025.1,1279.9 L2026.3,1278.7 L2027.6,1278 L2030,1278.3 L2031.4,1283.6 L2032.2,1277.4 L2033.6,1276.2 L2035.5,1276.8 L2036.1,1281.1 L2037.3,1280.5 L2038.5,1279.3 L2040.4,1279.5 L2041.2,1282.3 L2044.6,1282.3 L2045.2,1284.2 L2046.1,1279.3 L2047.7,1278.3 L2049.5,1279.3 L2049.9,1282.9 L2051.4,1282.3 L2052.2,1277.4 L2053.2,1265.2 L2054.4,1263.4 L2055.6,1262.1 L2057.5,1262.1 L2059.1,1264 L2059.1,1270.7 L2059.1,1270.7 L2057.5,1270.7 L2057.1,1268.3 L2056.3,1267 L2055.9,1270.7 L2055.4,1282.9 L2054.7,1289.7 L2053.2,1290.3 L2051,1291.5 L2050.5,1297.6 L2048.9,1298.2 L2047.7,1300.1 L2045.2,1300.7 L2044,1303.1 L2042.4,1303.7 L2041.6,1300.7 L2040.4,1297.6 L2038.8,1297 L2037.9,1294.6 L2036.3,1292.7 L2035.5,1287.2 L2033.6,1289.1 L2032.4,1293.3 L2030.6,1294.6 L2030,1297.6 L2028.2,1297 L2026.9,1295.8 L2026.3,1292.1 L2025.1,1292.7 L2023.9,1294.6 L2023,1296.2 L2021.4,1296.4 L2020.2,1295.2 L2019.8,1291.5 L2019,1290.3 L2017.8,1291.5 L2015.9,1291.5 L2014.1,1290.9 L2012.9,1292.7 L2012.5,1300.1 L2010.4,1299.5 L2009.8,1295.2 L2008.8,1295.2 L2008.6,1301.3 L2006.1,1301.3 L2005.5,1292.7 L2004.3,1293.3 L2003.1,1295.2 L2000.6,1294.6 L2000,1297 L1998.2,1297 L1997.6,1295.2 L1995.7,1295.2 L1994.9,1297.6 L1992.7,1297 L1992.1,1295.8 L1989,1296.4 L1988.8,1308.6 L1987.5,1309.9 L1986.3,1308 L1985.6,1298.8 L1985.1,1302.5 L1984.1,1303.7 L1982.3,1302.5 L1981.1,1299.5 L1980.7,1290.3 L1979.8,1294 L1978.6,1296.4 L1976.8,1298.2 L1975.6,1300.1 L1973.4,1300.1 L1972.9,1291.5 L1971.9,1292.1 L1971.6,1301.3 L1969.4,1301.3 L1968.2,1300.1 L1968,1291.5 L1965.2,1291.5 L1964.8,1295.8 L1963.6,1297.6 L1962.1,1297 L1960.9,1294 L1959.6,1289.1 L1959,1284.8 L1956.2,1284.8 L1955.7,1287.8 L1954.5,1290.3 L1953.8,1294.6 L1951.7,1294.6 L1951.1,1290.3 L1950.5,1286 L1949.2,1285.4 L1948.9,1290.9 L1946.2,1291.5 L1945.9,1304.4 L1943.5,1304.4 L1943.1,1290.3 L1942.3,1289.7 L1941.9,1276.8 L1941.1,1276.8 L1940.3,1300.7 L1939.8,1304.4 L1937,1304.4 L1936.4,1299.5 L1934.6,1300.7 L1933.3,1300.1 L1932.5,1297 L1932.1,1291.5 L1930.9,1291.5 L1930.5,1300.1 L1929.7,1300.7 L1928.2,1299.5 L1927.8,1282.9 L1926.4,1282.9 L1926,1299.5 L1924.2,1299.5 L1923.6,1298.8 L1922.3,1300.1 L1920.7,1300.7 L1918.7,1300.1 L1917.4,1297.6 L1916.2,1295.8 L1914.4,1296.4 L1911.9,1296.4 L1911.3,1299.5 L1910.1,1299.5 L1909.2,1295.2 L1908,1294.6 L1907.6,1304.7 L1905.6,1304.7 L1904.6,1301.9 L1904,1291.5 L1903.1,1291.5 L1902.8,1296.4 L1900.3,1296.4 L1899.9,1290.9 L1899.1,1290.9 L1898.5,1297.6 L1896,1297.6 L1894.8,1295.8 L1893.6,1292.7 L1893,1289.1 L1891.4,1289.1 L1891.1,1297.6 L1889.9,1299.5 L1888.4,1299.5 L1887.7,1296.6 L1885.6,1297 L1884,1295.8 L1883.8,1289.1 L1880.7,1289.1 L1880.1,1300.7 L1877.7,1300.7 L1876.4,1298.8 L1875.8,1294.6 L1875,1293.3 L1873.4,1294.6 L1871.6,1294.6 L1870.3,1292.7 L1869.7,1289.1 L1868.9,1287.2 L1867.3,1286 L1865.4,1287.8 L1863.2,1289.1 L1862,1293.3 L1860.5,1293.3 L1859.9,1287.8 L1858.3,1287.8 L1857.9,1291.8 L1852.2,1292.1 L1851.4,1296.4 L1850.5,1299.5 L1848.9,1299.5 L1847.7,1296.4 L1847.1,1292.1 L1846.1,1291.5 L1845.6,1296.4 L1843.4,1296.4 L1842.8,1294 L1841.3,1293.3 L1841,1289.1 L1839.1,1287.8 L1837.3,1286.6 L1836.1,1283.6 L1834.2,1282.3 L1833.4,1279.9 L1833,1285.4 L1831.8,1286.6 L1830,1287.2 L1829.7,1294.6 L1827.3,1294.6 L1826.9,1287.2 L1825.7,1287.8 L1825.1,1296.4 L1824.1,1300.1 L1822.4,1300.7 L1821.4,1295.8 L1820.8,1289.1 L1819.9,1288.4 L1819.6,1295.8 L1817.7,1297.6 L1816.2,1296.4 L1815.9,1289.1 L1813.1,1289.1 L1812.6,1292.7 L1811.6,1294.6 L1809.4,1294.6 L1808.9,1292.1 L1806.7,1292.1 L1806.5,1299.5 L1804.9,1300.7 L1803.3,1299.5 L1802.8,1290.3 L1801.2,1290.3 L1800.6,1294.6 L1798.1,1295.2 L1797.5,1298.2 L1796.3,1299.5 L1793.9,1299.8 L1792.3,1298.2 L1792,1290.3 L1791,1289.1 L1790.8,1273.2 L1789.6,1271.9 L1788.4,1273.2 L1787.1,1274.4 L1786.9,1299.8 L1784.4,1299.5 L1783.5,1295.2 L1783.2,1290.3 L1782.2,1290.3 L1781.6,1293.3 L1780,1292.7 L1780,1294 L1776.9,1294 L1776.7,1296.4 L1774.3,1296.4 L1773.5,1291.5 L1772.7,1294.6 L1769,1294.6 L1768.4,1291.5 L1767.2,1294.6 L1764.7,1295.8 L1762.9,1297 L1761.6,1300.7 L1760.1,1300.1 L1759.2,1295.2 L1757.4,1294 L1755.5,1292.7 L1753.7,1294 L1752.2,1292.7 L1751.5,1284.2 L1750.6,1279.9 L1750,1273.8 L1747.6,1273.2 L1747,1268.3 L1745.7,1267 L1744.5,1264.6 L1742.9,1264 L1741.5,1265.2 L1739,1265.8 L1738.8,1276.6 L1736.6,1276.6 L1736.3,1270.7 L1735.1,1270.7 L1734.7,1281.7 L1731.7,1281.7 L1730.4,1278.7 L1729.5,1273.8 L1728.2,1268.3 L1727.8,1284.8 L1726.8,1286.6 L1724.1,1287.8 L1723.7,1303.1 L1721.3,1303.7 L1719.4,1301.3 L1718.8,1284.2 L1717,1284.8 L1716.4,1288.4 L1714.5,1289.7 L1712.7,1290.9 L1710.3,1291.5 L1709,1289.7 L1708.4,1284.2 L1706.6,1284.8 L1706,1290.3 L1702.9,1290.9 L1702.3,1294.6 L1699.9,1295.2 L1699.2,1298.8 L1697.7,1299.8 L1696.4,1297.6 L1696.2,1286.6 L1694.4,1287.2 L1693.1,1289.7 L1691.9,1291.5 L1689.5,1291.5 L1687,1289.1 L1685.2,1286.6 L1684,1283.6 L1683.3,1293.3 L1680,1293.3 L1679.7,1281.1 L1677.8,1279.9 L1676.6,1281.7 L1675.4,1283.6 L1673.6,1284.8 L1672,1287.8 L1671.1,1297 L1669.3,1297.6 L1668.3,1292.7 L1667.4,1284.2 L1665.6,1284.8 L1664.4,1286.6 L1663.8,1291.8 L1657.3,1291.8 L1656.8,1281.1 L1654,1281.1 L1652.8,1282.9 L1650.9,1284.8 L1649.1,1286.6 L1647.2,1288.8 L1645,1288.8 L1644.6,1282.9 L1643,1282.9 L1642.6,1288.8 L1640.5,1288.8 L1640.2,1282.9 L1639.3,1282.9 L1638.9,1286 L1637.7,1286.6 L1636.2,1285.4 L1635,1281.7 L1633.2,1279.3 L1632,1276.6 L1629.5,1276.6 L1628.3,1274.4 L1627.1,1276.8 L1626.4,1295.8 L1624.6,1296.6 L1623.4,1295.2 L1623,1285.4 L1622.2,1284.8 L1621.6,1288.4 L1620.3,1289.1 L1619.1,1294.6 L1616.3,1294.6 L1615.4,1286.6 L1614.2,1284.8 L1612,1282.9 L1611.2,1284.8 L1609.6,1284.8 L1609.1,1273.8 L1607.9,1273.8 L1607.5,1288.8 L1605.6,1288.8 L1604.4,1287.8 L1603.2,1278.7 L1602.2,1278.7 L1601.4,1286 L1599.3,1286.6 L1598.3,1285.4 L1596.5,1286 L1595.2,1284.8 L1594.6,1286.6 L1592.8,1287.8 L1591.6,1286.6 L1590.4,1284.2 L1588.5,1282.9 L1587.9,1279.9 L1586.1,1278.7 L1585.1,1287.2 L1582.2,1287.2 L1581.8,1292.7 L1580.6,1294.6 L1578.1,1294.6 L1577.3,1289.1 L1576.5,1291.5 L1574.4,1291.5 L1574.1,1285.4 L1572.6,1284.8 L1572,1281.1 L1570.8,1276.8 L1569.2,1275.6 L1568.9,1278.7 L1566.2,1278.7 L1565.5,1259.7 L1565,1254.8 L1562.2,1254.8 L1560.4,1257.9 L1559.8,1266.4 L1558.2,1267 L1557,1272.5 L1556.7,1284.8 L1554.9,1284.8 L1553,1284.2 L1552.4,1279.9 L1552.1,1283.6 L1549.1,1284.2 L1548.4,1289.7 L1546.7,1290.9 L1545.1,1289.7 L1544.5,1281.1 L1542.3,1281.1 L1541.8,1287.8 L1538.6,1287.2 L1538.1,1281.1 L1537.1,1279.3 L1534.4,1279.3 L1533.7,1278.7 L1532.2,1278.7 L1531.9,1283.6 L1530,1282.9 L1530,1282.9 L1529.1,1282.9 L1528.8,1270.1 L1526.3,1270.1 L1525.1,1266.4 L1523.9,1249.3 L1522,1237.7 L1521.4,1230.9 L1518.6,1231.6 L1518.1,1253.6 L1517.2,1275 L1516.2,1285.4 L1514.7,1287.2 L1513.5,1287.8 L1512.3,1284.8 L1509.8,1285.4 L1508.8,1290.3 L1507.4,1290.9 L1506.4,1289.1 L1506.1,1276.2 L1504.9,1275.6 L1504.3,1278.7 L1502.2,1278.7 L1501.9,1271.3 L1500.6,1270.7 L1500,1267 L1498.8,1267 L1497,1267.6 L1495.1,1267.6 L1493.3,1270.7 L1492.7,1279.9 L1491.5,1280.5 L1490.2,1279.3 L1489,1278.7 L1488.4,1281.7 L1486,1281.7 L1485.3,1284.8 L1483.5,1284.8 L1482.9,1280.5 L1481.7,1281.7 L1479.5,1281.7 L1479,1276.8 L1475.8,1276.8 L1475.6,1285.4 L1474.6,1286.6 L1473.1,1286 L1472.5,1281.7 L1471.3,1281.7 L1470.7,1284.8 L1469.7,1286.6 L1468.2,1286.6 L1467,1281.1 L1465.5,1279.9 L1465.2,1270.7 L1463.9,1270.7 L1463.3,1284.8 L1460.6,1284.8 L1460.3,1276.8 L1459,1276.8 L1458.4,1286 L1456,1286.6 L1454.8,1287.8 L1453.3,1287.8 L1452.3,1282.9 L1449.9,1282.9 L1449.2,1278.7 L1448.6,1282.9 L1446.2,1285.4 L1445.6,1287.8 L1444,1287.8 L1443.5,1291.5 L1441.3,1291.5 L1440.1,1289.7 L1439.5,1273.2 L1437.9,1273.2 L1437.4,1284.8 L1434.6,1284.2 L1432.7,1282.3 L1432.1,1278.7 L1431.5,1281.7 L1428.4,1281.7 L1427.8,1270.7 L1426.9,1270.7 L1426.6,1282.3 L1426,1283.6 L1424.4,1283.9 L1423.6,1281.7 L1422.3,1272.5 L1421.7,1270.1 L1419.9,1269.5 L1419.3,1266.4 L1418,1265.8 L1417.4,1278 L1416,1278.7 L1415.6,1287.8 L1413.4,1287.8 L1412.9,1283.6 L1411.3,1282.3 L1410.7,1273.8 L1410.1,1274.4 L1409.5,1279.3 L1408,1280.5 L1406.4,1279.3 L1405.8,1274.4 L1405.2,1272.5 L1402.8,1272.5 L1402.1,1282.3 L1401.5,1286 L1400.3,1286.6 L1399.1,1286 L1398.5,1291.5 L1396.6,1291.8 L1395.4,1290.3 L1395,1278.7 L1394.2,1277.4 L1393.8,1267 L1393,1266.4 L1392.4,1267.6 L1389.9,1268.3 L1388.7,1270.7 L1387.5,1270.7 L1386.8,1267 L1385.6,1264 L1382.8,1264 L1382.3,1260.3 L1381.1,1260.3 L1380.7,1273.8 L1379.5,1275.6 L1376.4,1275.6 L1375.8,1278.7 L1374.2,1278.7 L1373.4,1281.7 L1372.2,1283.6 L1368.5,1283.6 L1367.3,1279.9 L1366.7,1272.5 L1366,1268.3 L1364.8,1267.6 L1363,1265.8 L1361.5,1267 L1360.3,1272.5 L1359.9,1280.5 L1359.1,1281.7 L1356.9,1281.7 L1355.6,1280.5 L1354.1,1281.1 L1353.8,1288.8 L1351.4,1288.8 L1351,1284.8 L1350.1,1284.2 L1349.5,1281.1 L1347.3,1279.9 L1346.5,1275 L1344.4,1275.6 L1343.4,1272.5 L1342.8,1273.8 L1340.4,1273.8 L1340,1270.7 L1338.5,1268.9 L1337.9,1264 L1334.8,1264 L1334.2,1270.7 L1332.4,1272.5 L1330,1271.9 L1329.3,1276.6 L1325.1,1276.8 L1324.4,1280.5 L1322.4,1280.5 L1322,1275 L1321.4,1272.5 L1318.9,1272.5 L1318.3,1276.6 L1316.5,1276.8 L1315.5,1279.9 L1313.4,1281.7 L1311.6,1281.7 L1311,1278.7 L1309.4,1278.7 L1308.9,1282.9 L1308.2,1286.6 L1306.7,1286.6 L1305.5,1284.8 L1303.6,1284.8 L1302.4,1283.6 L1302.1,1278.7 L1300.8,1278.7 L1300.3,1289.7 L1298.8,1290.9 L1297.3,1289.1 L1296.9,1279.3 L1295.4,1278.7 L1295.1,1274.4 L1294.1,1273.8 L1293.9,1270.7 L1292.6,1270.7 L1292,1278.7 L1291,1279.9 L1290.2,1281.1 L1289.6,1284.8 L1287.4,1284.8 L1287.1,1278.7 L1285.3,1278.7 L1284.7,1282.3 L1283.5,1282.9 L1282.2,1286.6 L1280,1286 L1280,1287.6 L1279.1,1287.6 L1278.8,1299.9 L1276.3,1299.9 L1275.7,1280.9 L1273.9,1280.9 L1273.3,1286.4 L1271.4,1286.4 L1270.2,1284.6 L1268.4,1282.7 L1267.8,1276.6 L1264.1,1276.6 L1263.5,1284.6 L1260.4,1284.6 L1259.8,1279.1 L1258.2,1277.8 L1257.6,1247.2 L1257.4,1236.8 L1254.3,1236.2 L1253.9,1232.6 L1253.5,1233.2 L1253.1,1249.7 L1251.2,1251.5 L1250.6,1254 L1248.8,1254.6 L1247.3,1253.4 L1247,1235.6 L1246.1,1235 L1245.7,1246.6 L1243.7,1247.2 L1242.1,1260.7 L1240.8,1267.4 L1240.2,1278.4 L1237.5,1278.4 L1236.6,1268.7 L1234.7,1266.2 L1233.5,1257 L1232.9,1251.5 L1230.2,1252.1 L1229.2,1264.4 L1226.8,1265 L1225.8,1271.1 L1224.6,1281.5 L1223.7,1285.8 L1221.3,1287 L1218.8,1288.8 L1217,1290.7 L1215.5,1290.1 L1215.2,1285.2 L1212.1,1285.8 L1211.5,1291.3 L1209.4,1291.3 L1209,1284.6 L1206,1284.6 L1205.4,1281.5 L1198,1281.5 L1197.4,1288.2 L1195.2,1288.2 L1195,1279.7 L1193.7,1279.1 L1193.1,1276 L1190.7,1276 L1190.3,1278.4 L1188.8,1280.3 L1187.4,1279.7 L1186.6,1274.2 L1185.8,1273.6 L1185.2,1269.3 L1183.3,1272.3 L1182.1,1274.2 L1180.9,1277.8 L1180.3,1292.5 L1179.1,1293.7 L1177.6,1292.5 L1177.2,1279.7 L1175.4,1280.3 L1174.8,1279.1 L1171.7,1278.4 L1171.1,1272.9 L1169.3,1272.9 L1167.4,1271.1 L1165.6,1272.3 L1165,1287 L1163.8,1287.6 L1162.5,1286.4 L1161.9,1282.1 L1160.7,1281.5 L1160.1,1283.3 L1158.3,1283.3 L1157.6,1281.5 L1155.2,1281.5 L1154.6,1287.6 L1153.4,1290.7 L1152.1,1290.7 L1150.3,1287.6 L1149.7,1284.6 L1146,1284.6 L1145.4,1271.7 L1144.2,1268.7 L1142.4,1261.9 L1141.1,1247.2 L1140.5,1233.8 L1138.4,1226.4 L1138.1,1211.8 L1136.8,1211.8 L1136.2,1225.2 L1135,1253.4 L1134.4,1266.8 L1133.8,1269.9 L1130.7,1269.9 L1130.1,1276.6 L1127.1,1276.6 L1126.4,1268.7 L1124,1272.9 L1123.4,1281.5 L1120.9,1280.9 L1119.7,1283.3 L1117.9,1284 L1116.7,1288.2 L1113.6,1288.2 L1113.2,1285.8 L1111.2,1285.8 L1110.5,1291.3 L1107.1,1291.3 L1106.9,1285.8 L1105.9,1285.8 L1105.4,1290.3 L1103.2,1290.1 L1102,1287 L1100.1,1286.4 L1099.5,1281.5 L1096.1,1281.5 L1095.2,1284 L1094.6,1288.2 L1092.4,1288.2 L1091.6,1284 L1089.7,1283.3 L1089.1,1279.1 L1087.9,1278.4 L1087.3,1284.6 L1085.5,1284.6 L1084.2,1286.4 L1083,1288.8 L1081.2,1288.2 L1080.6,1284.6 L1080,1287.6 L1078.1,1287.6 L1076.5,1287 L1076,1284.6 L1074.4,1284 L1072.4,1283.3 L1071.6,1279.1 L1070.2,1278.4 L1069.6,1273.6 L1064.7,1273.6 L1064.3,1278.4 L1061.6,1278.4 L1061.4,1273.6 L1060.1,1273.6 L1059.8,1284.6 L1057.6,1284.6 L1057.3,1276 L1056.3,1275.4 L1056.1,1270.5 L1053.6,1270.5 L1051.8,1269.3 L1050.3,1266.2 L1049.4,1255.8 L1048.4,1248.5 L1046.9,1247.2 L1046.3,1240.5 L1045.1,1241.1 L1044.5,1247.9 L1043.2,1249.7 L1042,1251.5 L1041.4,1266.8 L1039.6,1267.4 L1037.7,1268.7 L1037.1,1275.4 L1035.3,1275.4 L1034.1,1273.6 L1032.8,1275.4 L1032.2,1280.3 L1030,1279.7 L1030,1280.9 L1028.2,1280.9 L1026.9,1279.7 L1024.5,1279.1 L1023.3,1275.4 L1020.2,1275.4 L1019.6,1268 L1017.2,1266.8 L1014.7,1268 L1012.9,1269.3 L1012.5,1278.4 L1008.6,1278.4 L1008,1272.9 L1006.8,1268 L1003.7,1263.8 L1000.6,1264.4 L1000,1268.7 L998.2,1269.9 L997.6,1276.6 L994.5,1276 L992.7,1271.1 L991.5,1266.2 L990.2,1264.4 L989,1251.5 L986.3,1252.1 L985.6,1264.4 L982.9,1265 L982.3,1272.3 L979.8,1272.9 L979.5,1282.7 L976.4,1282.7 L976.2,1265 L974.3,1264.4 L973.7,1255.8 L972.5,1253.4 L971.9,1233.8 L970.4,1233.2 L969.7,1214.2 L968,1193.4 L967.2,1189.1 L966.4,1189.7 L965.8,1198.3 L965.5,1242.4 L963.3,1243.6 L962.7,1257.6 L959,1258.3 L958.4,1263.8 L956,1264.4 L955.4,1265.6 L952.9,1266.8 L952.3,1272.3 L949.2,1271.7 L948.9,1269.3 L946.2,1269.9 L945.6,1275.4 L943.1,1276 L941.9,1274.8 L941.3,1266.8 L940.7,1269.3 L936.4,1269.3 L935.8,1276.6 L933.3,1276.6 L932.7,1270.5 L930.9,1269.9 L930.3,1273.6 L927.8,1272.9 L927.2,1266.8 L926,1269.9 L924.2,1269.3 L923.6,1267.4 L921.7,1268 L921.1,1275.4 L920.5,1286.4 L918.3,1286.4 L918,1269.9 L916.2,1269.3 L914.4,1270.5 L912.5,1272.9 L910.1,1274.2 L908.3,1276 L906.4,1274.8 L905.2,1268.7 L904,1264.4 L902.8,1261.9 L900.3,1261.9 L899.1,1262.5 L897.2,1263.8 L895.4,1259.5 L894.8,1252.1 L893.6,1247.2 L892.4,1241.1 L892,1232.6 L890.5,1224 L889.7,1211.8 L888.7,1209.3 L887.7,1209.3 L886.8,1220.3 L886.2,1243.6 L885.6,1250.9 L883.2,1250.9 L882,1256.4 L880.7,1257.6 L880.1,1269.9 L878.3,1270.5 L876.4,1269.3 L875.5,1266.8 L874.6,1259.5 L870.3,1259.5 L869.7,1263.2 L868.5,1265 L867.3,1266.8 L865.7,1266.2 L865.4,1262.5 L864.2,1260.7 L863.6,1261.9 L862.4,1265 L860.3,1264.4 L859.9,1258.9 L858.1,1259.5 L856.3,1259.5 L855.6,1255.8 L854.4,1253.4 L854.2,1242.4 L853.4,1233.8 L853.2,1227.1 L851.7,1227.7 L851,1242.4 L850.1,1256.4 L848.9,1257.6 L848.3,1265 L847.1,1269.3 L845.6,1269.3 L844.9,1266.2 L843.4,1265.6 L843,1250.9 L841,1251.5 L840.7,1266.2 L839.1,1267.4 L837.9,1266.8 L836.7,1266.2 L835.7,1267.4 L835.5,1274.8 L833.6,1276 L832.4,1274.2 L831.8,1262.5 L830.6,1263.2 L830,1265.6 L828.7,1269.3 L826.9,1272.9 L825.7,1272.3 L825.3,1265 L823.8,1264.4 L823.5,1271.7 L822,1272.9 L820.4,1271.7 L820.2,1263.2 L818.3,1262.5 L816.9,1263.8 L816.5,1276.6 L814,1276.6 L812.8,1272.9 L811,1272.3 L809.2,1271.1 L808.9,1265 L807.9,1265 L807.3,1274.8 L805.7,1276 L804.3,1274.8 L803.6,1265 L802.4,1264.4 L800.6,1261.3 L799.4,1257.6 L795.3,1257.6 L795.1,1248.5 L792,1248.5 L791.4,1245.4 L789.6,1244.2 L788.4,1247.2 L787.1,1250.3 L785.7,1254.6 L785.3,1265.6 L784.1,1269.3 L782.2,1269.3 L781.6,1266.8 L780,1266.2 L780,1266.4 L778.2,1264.6 L776.3,1265.2 L775.7,1267 L773.9,1267 L772.7,1265.2 L769.6,1265.2 L767.8,1268.8 L767.2,1275.6 L765.3,1275.6 L765.3,1269.5 L764.5,1268.8 L764.1,1245.6 L762.9,1245 L761.3,1238.9 L760.8,1224.2 L760.1,1223.6 L758.8,1227.2 L758,1234.6 L757.4,1248 L755.5,1248.7 L753.9,1246.8 L753.1,1236.8 L750.3,1236.8 L750,1235.2 L748.2,1235.8 L747.6,1249.9 L745.1,1250.5 L743.3,1251.1 L742.7,1269.5 L741.5,1270.7 L739.6,1270.1 L739,1267 L737.2,1267.6 L735.6,1266.4 L735.1,1260.3 L734.4,1260.3 L733.5,1263.3 L731.1,1264 L729.8,1265.8 L728,1266.4 L727.4,1270.1 L726.2,1270.7 L724.9,1269.5 L724.3,1257.8 L720,1257.2 L719.4,1264.6 L718.8,1266.4 L717.2,1266.4 L716.4,1262.7 L715.2,1257.8 L714.8,1244.1 L713.1,1243.8 L712.7,1252.9 L710.9,1254.4 L708.7,1254.8 L708.4,1240.7 L707.2,1240.7 L706.6,1217.5 L706,1202.8 L705.4,1157.5 L704.4,1152.6 L704.1,1130.6 L703.2,1131.2 L702.9,1174 L701.9,1174.6 L701.7,1214.4 L700.5,1215 L700.1,1227.2 L699.2,1230.9 L698.6,1234.6 L697.7,1236.8 L694.6,1236.8 L694.4,1234 L692.5,1233.4 L691.9,1230.3 L690.1,1230.3 L688.8,1226 L687.9,1219.3 L687.6,1199.1 L686.6,1197.9 L686.4,1161.8 L685.4,1161.2 L685.3,1100 L685.2,1085.9 L684.4,1084.7 L684.3,1073.7 L683.6,1072.5 L683.1,1073.7 L683,1100 L682.7,1131.8 L682.1,1153.8 L680.9,1155.1 L680.3,1166.7 L679.7,1170.4 L677.8,1170.4 L677.5,1166.1 L676.6,1164.8 L676.2,1150.2 L675.4,1148.9 L675.1,1113.5 L674.2,1114.1 L673.6,1174.6 L672.6,1191.2 L671.7,1210.7 L669.9,1233.4 L669,1243.8 L668,1248.7 L665.4,1248.7 L665,1255.4 L663.8,1257.6 L661.3,1257.8 L661,1251.1 L659.7,1251.1 L659.5,1260.3 L657.9,1261.8 L656.4,1260.9 L656.1,1254.8 L654.6,1254.8 L653.4,1251.1 L652.8,1243.8 L650.3,1243.8 L648.5,1246.8 L647.9,1251.1 L646,1256 L644.8,1257.8 L642,1257.8 L641.4,1261.8 L639.9,1261.8 L638.7,1260.3 L636.2,1260.3 L634.4,1257.8 L633.8,1252.3 L631.3,1251.7 L631,1236.8 L629.1,1236.8 L628.3,1238.9 L626.4,1238.9 L625.8,1226 L624.2,1222.4 L624,1197.9 L622.5,1197.9 L622.2,1100 L622,931.2 L621.3,930.5 L621.2,690 L619.8,690 L619.7,967.2 L618.9,967.9 L618.7,1062.7 L618,1063.3 L617.9,1106 L617.8,1180.1 L617.3,1180.8 L616.7,1212.6 L615.4,1221.7 L614.5,1232.1 L613.6,1239.5 L612.4,1241.9 L610.5,1244.6 L608.7,1245 L607.1,1243.2 L606.9,1227.9 L605,1227.9 L603.8,1224.8 L603.2,1220.5 L598.3,1220.5 L596.5,1218.7 L596.1,1195.4 L595.2,1193 L594.9,1167.3 L594,1167.9 L593.4,1195.4 L591.8,1195.4 L591.6,1208.3 L589.1,1208.3 L588.8,1196 L587.9,1196.7 L587.3,1213.8 L584.8,1216.8 L584.2,1230.9 L581.2,1233.6 L579.6,1233.4 L579.3,1227.9 L578.1,1227.9 L577.5,1234 L576.9,1236.4 L574.1,1236.4 L573.2,1244.4 L572.6,1252.3 L570.8,1253.6 L569.2,1252.9 L568.9,1246.2 L566.5,1246.2 L565.9,1243.8 L563.4,1245.6 L562.6,1248.7 L560.4,1248.7 L559.2,1245.6 L558.5,1233.4 L557.3,1231.5 L556.1,1238.9 L555.7,1250.5 L553.6,1250.5 L552.4,1248.7 L552.1,1238.3 L550,1238.3 L548.8,1240.7 L545.1,1240.7 L543.9,1242.5 L542.6,1248.7 L541,1248.7 L540.6,1245 L539.2,1244.4 L538.6,1254.8 L535.3,1254.8 L533.5,1256.6 L531.3,1256.6 L530.8,1253.9 L530,1253.6 L526.3,1253.6 L526,1243.8 L523.5,1243.8 L522.7,1238.9 L519.6,1238.9 L518.4,1243.2 L517.8,1251.7 L514.7,1251.7 L514.1,1243.2 L512.9,1245 L510.4,1245 L509.2,1243.2 L508.6,1240.7 L508,1244.4 L504.3,1244.4 L502.5,1248.7 L498.8,1250.5 L493.9,1251.7 L491.2,1251.7 L490.8,1242.5 L489.6,1242.5 L487.8,1244.4 L487.2,1253.6 L484.1,1253.6 L484.1,1241.9 L482.7,1240.7 L481.1,1237 L480.4,1227.2 L478.6,1224.8 L476.2,1221.1 L473.7,1200.3 L473.1,1196.7 L471.6,1195.4 L470.7,1213.8 L469.4,1216.2 L468.8,1224.8 L466.4,1224.8 L465.8,1204.6 L465.5,1142.8 L464.5,1141.6 L463.9,1141.6 L463.3,1142.8 L462.7,1167.3 L460.6,1196.7 L460.3,1224.8 L456.6,1224.8 L455.4,1227.2 L454.4,1234.6 L450.5,1234.6 L449.9,1228.5 L448.6,1228.5 L448,1234.6 L444,1234.6 L443.7,1238.9 L440.1,1238.9 L439.5,1227.9 L432.7,1227.9 L432.1,1238.3 L431.8,1243.8 L429.7,1243.8 L429.1,1242.5 L426,1241.9 L425.4,1227.2 L424.2,1227.2 L423.6,1234.6 L418,1234.6 L416.8,1232.8 L415.6,1235.2 L415,1241.9 L412.5,1241.9 L412.2,1238.9 L410.1,1238.3 L409.5,1234.6 L408.5,1234.6 L408.3,1238.9 L406.4,1238.9 L405.2,1237.6 L404.8,1227.9 L403.6,1227.2 L402.8,1234.6 L400.3,1234.6 L399.1,1232.1 L398.7,1241.9 L396.3,1241.9 L396,1232.1 L395,1228.5 L391.1,1227.9 L390.5,1227.9 L387.1,1227.9 L386.5,1236.8 L384.4,1236.8 L383.2,1232.1 L382,1220.5 L380.1,1222.4 L379.5,1229.7 L377.3,1229.7 L376.4,1217.5 L375.5,1204 L373.4,1199.1 L372.8,1172.2 L372.2,1112.2 L371.6,1109.8 L370.6,1112.2 L369.7,1113.5 L369.1,1163.6 L367.3,1183.2 L366.7,1197.9 L365.4,1211.3 L364.8,1219.9 L363,1220.5 L361.8,1229.7 L359.3,1229.7 L359.3,1223 L357.1,1222.4 L356.9,1219.9 L354.4,1220.5 L354.4,1227.2 L353.2,1229.7 L350.1,1229.7 L349.3,1224.2 L348.6,1229.7 L345.2,1229.7 L344.3,1224.8 L344,1217.5 L342.8,1217.5 L342.2,1222.4 L340.4,1223 L339.7,1226.6 L337.1,1226.6 L336.1,1222.4 L334.8,1221.7 L334.2,1230.9 L332.4,1231.9 L331.2,1230.3 L330.8,1219.3 L330,1216.2 L327.5,1216.2 L326.3,1219.9 L324.2,1218.7 L323.5,1205.2 L322.6,1197.9 L321.1,1174.6 L320.8,1168.5 L320.2,1169.7 L318.9,1185.6 L317.1,1188.1 L316.5,1197.9 L313.7,1197.9 L313.1,1206.4 L312.2,1213.8 L309.2,1213.8 L306.3,1199.1 L305.5,1184.4 L304.5,1173.4 L303.6,1133 L303,1120.8 L300.2,1120.2 L300,1107.3 L299.1,1103.9 L298.4,1107.3 L297.5,1115.9 L297.5,1148.9 L296.3,1152.6 L295.7,1172.8 L293.9,1179.5 L293.9,1195.4 L289.8,1195.4 L289.8,1208.7 L287.1,1208.7 L286.5,1210.7 L280,1210.7 L280,1210.7 L276.6,1210.7 L276.6,1208.7 L270.5,1208.7 L269.6,1210.7 L266.9,1210.7 L266.9,1200.9 L265.3,1199.7 L264.7,1196 L262.9,1196 L262.9,1197.9 L261.6,1199.7 L260.4,1199.7 L259.2,1197.9 L256.1,1197.9 L253.9,1195.7 L253.3,1197.9 L250.6,1197.9 L250.6,1203.8 L247.8,1203.8 L247.8,1194.8 L243.7,1194.8 L243.7,1197.9 L241.2,1197.9 L240.8,1194.8 L239.6,1191.8 L238.4,1193 L236.6,1193.6 L236,1195.7 L233.1,1195.7 L233.1,1186.6 L230.7,1186.6 L230.7,1195.7 L228,1195.7 L228,1186.6 L224.9,1186.6 L223.4,1188.1 L222.5,1190.5 L220.7,1191.2 L220.7,1199.7 L217.8,1199.7 L217.8,1204.6 L214.9,1204.6 L214.9,1177.7 L213.3,1177.7 L213.3,1190.5 L211.9,1190.5 L211.9,1195.7 L209,1195.7 L209,1190.5 L208.4,1183.2 L207.2,1182.6 L207.2,1186.3 L206.2,1186.9 L205.6,1190.5 L201.1,1190.5 L201.1,1180.8 L197,1180.8 L195.6,1182.6 L193.7,1182.8 L192.2,1181.4 L192.2,1177.7 L186.6,1177.7 L186.6,1182.6 L184.6,1182.6 L183.3,1180.8 L183.3,1183.2 L181.5,1184.7 L179.9,1184.7 L179.9,1179.5 L179.1,1178.3 L179.1,1167.9 L177.2,1167.9 L176.6,1170.4 L174.8,1172.2 L173.6,1174 L171.7,1174 L171.7,1171 L170.7,1171 L170.7,1175.6 L169.5,1175.6 L168,1174.6 L168,1167.1 L166.8,1167.1 L166.8,1175.9 L166.2,1177.7 L163.8,1177.7 L163.8,1173.4 L162.9,1170 L161.3,1169.7 L161.3,1163.6 L157.9,1163.6 L157.9,1168.5 L157,1169.7 L153.6,1170 L153.6,1175.9 L152.8,1177.7 L151.2,1177.7 L149.9,1175.9 L149.9,1170.4 L149.1,1169.7 L149.1,1167.5 L146,1167.5 L144.2,1160.6 L141.1,1151.4 L139.3,1148.9 L137.7,1150.2 L137.7,1157.5 L135.6,1157.5 L134,1156.9 L134,1160 L133.2,1161.8 L131.1,1161.8 L131.1,1155.9 L128.7,1155.9 L128.7,1157.8 L126.4,1157.8 L125.8,1155.9 L123.4,1155.7 L122.2,1153.8 L122.2,1147.7 L120.6,1147.7 L120.6,1159.7 L118.3,1159.7 L117,1157.5 L117,1151.4 L114.8,1151.4 L114.8,1153.2 L113,1153.8 L113,1157.8 L110.5,1157.8 L109.6,1159.7 L107.1,1159.7 L107.1,1152 L105.6,1152 L105.6,1155.7 L104.4,1155.7 L103,1153.8 L103,1149.6 L101,1149.6 L101,1151.4 L100.1,1153.2 L97.7,1153.8 L97.7,1157.5 L94.9,1157.5 L94.9,1152 L92.8,1152 L92.8,1160 L90.7,1160 L90.7,1163.6 L89.7,1165.7 L87.9,1165.7 L86.1,1163.6 L86.1,1157.5 L84.6,1157.5 L84.6,1167.5 L82.4,1167.5 L81.2,1164.2 L81.2,1149.6 L79.3,1149.6 L78.7,1151.4 L77.1,1151.4 L77.1,1153.2 L75.1,1153.8 L75.1,1157.5 L73.2,1157.8 L73.2,1159.3 L71.6,1161.8 L70.4,1161.8 L68.9,1160 L68.9,1157.5 L67.4,1157.5 L67.4,1159.7 L64.9,1159.7 L64.9,1158.1 L63.4,1156.3 L62.2,1156.3 L62.2,1157.8 L57.9,1157.8 L57.9,1160 L54.9,1160 L54.9,1162.2 L52.8,1162.2 L52.8,1167.5 L51.6,1169.7 L50,1169.7 L48.8,1166.4 L47.2,1164.8 L47.2,1157.5 L46.3,1157.5 L46.3,1160.9 L44.8,1160.9 L44.8,1170 L42,1170 L39.6,1167.5 L38,1167.5 L38,1172.2 L37.1,1173.8 L35.3,1173.8Z"/>
</g>
<g id="axis" fill="#000" shape-rendering="crispEdges">
<rect x="32" y="1449" width="2030" height="6"/>
<rect x="32" y="1434" width="7" height="18" rx="1" ry="1"/>
<rect x="167" y="1419" width="6" height="33" rx="1" ry="1"/>
<rect x="302" y="1434" width="6" height="18" rx="1" ry="1"/>
<rect x="437" y="1419" width="6" height="33" rx="1" ry="1"/>
<rect x="572" y="1434" width="6" height="18" rx="1" ry="1"/>
<rect x="707" y="1419" width="6" height="33" rx="1" ry="1"/>
<rect x="842" y="1434" width="6" height="18" rx="1" ry="1"/>
<rect x="976" y="1419" width="6" height="33" rx="1" ry="1"/>
<rect x="1111" y="1434" width="6" height="18" rx="1" ry="1"/>
<rect x="1246" y="1419" width="6" height="33" rx="1" ry="1"/>
<rect x="1381" y="1434" width="6" height="18" rx="1" ry="1"/>
<rect x="1516" y="1419" width="6" height="33" rx="1" ry="1"/>
<rect x="1651" y="1434" width="6" height="18" rx="1" ry="1"/>
<rect x="1785" y="1419" width="6" height="33" rx="1" ry="1"/>
<rect x="1920" y="1434" width="6" height="18" rx="1" ry="1"/>
<rect x="2055" y="1419" width="7" height="33" rx="1" ry="1"/>
</g>
<g id="ticklabels" fill="#000" font-size="83" text-anchor="middle">
<text x="170.4" y="1547.2">10</text>
<text x="440.1" y="1547.2">20</text>
<text x="709.8" y="1547.2">30</text>
<text x="979.4" y="1547.2">40</text>
<text x="1249.1" y="1547.2">50</text>
<text x="1518.8" y="1547.2">60</text>
<text x="1788.5" y="1547.2">70</text>
<text x="2058.1" y="1547.2">80</text>
</g>
<g id="axistitle" fill="#000" font-size="87">
<text x="1016" y="1647.2" font-size="89">2</text>
<text transform="translate(1064.5,1647.4) scale(1.22,1)" x="0" y="0" font-style="italic" font-size="79">θ</text>
<text x="1124" y="1648">(</text>
<text x="1153" y="1648" font-size="87">°</text>
<text x="1187" y="1648">)</text>
</g>
<g id="markers" shape-rendering="crispEdges">
<ellipse fill="#ff0000" cx="326.5" cy="1104.2" rx="16.6" ry="16.2"/>
<ellipse fill="#ff0000" cx="371.5" cy="926.0" rx="16.6" ry="16.2"/>
<ellipse fill="#ff0000" cx="683.7" cy="889.7" rx="16.6" ry="16.2"/>
<ellipse fill="#ff0000" cx="855.6" cy="1175.1" rx="16.6" ry="16.2"/>
<ellipse fill="#ff0000" cx="1047.5" cy="1184.8" rx="16.6" ry="16.2"/>
<ellipse fill="#ff0000" cx="1138.4" cy="1145.9" rx="16.6" ry="16.2"/>
<ellipse fill="#ff0000" cx="1569.6" cy="1201.0" rx="16.6" ry="16.2"/>
<polygon fill="#9500ff" points="465.4,914.0 483.1,935.0 465.4,956.0 447.7,935.0"/>
<polygon fill="#9500ff" points="623.5,28.0 641.2,49.0 623.5,70.0 605.8,49.0"/>
<polygon fill="#9500ff" points="884.4,1102.8 902.1,1123.8 884.4,1144.8 866.7,1123.8"/>
<polygon fill="#9500ff" points="964.5,1091.8 982.2,1112.8 964.5,1133.8 946.8,1112.8"/>
<polygon fill="#9500ff" points="1257.4,1082.9 1275.1,1103.9 1257.4,1124.9 1239.7,1103.9"/>
<polygon fill="#9500ff" points="1517.5,1127.0 1535.2,1148.0 1517.5,1169.0 1499.8,1148.0"/>
<polygon fill="#9500ff" points="1742.4,1158.9 1760.1,1179.9 1742.4,1200.9 1724.7,1179.9"/>
<polygon fill="#008000" points="302.4,987.5 306.7,1001.3 320.5,1001.3 309.3,1009.9 313.6,1023.7 302.4,1015.1 291.2,1023.7 295.5,1009.9 284.3,1001.3 298.1,1001.3"/>
<polygon fill="#008000" points="597.6,1063.0 601.9,1076.8 615.7,1076.8 604.5,1085.4 608.8,1099.2 597.6,1090.6 586.4,1099.2 590.7,1085.4 579.5,1076.8 593.3,1076.8"/>
<polygon fill="#008000" points="710.4,1016.3 714.7,1030.1 728.5,1030.1 717.3,1038.7 721.6,1052.5 710.4,1043.9 699.2,1052.5 703.5,1038.7 692.3,1030.1 706.1,1030.1"/>
<polygon fill="#008000" points="765.6,1142.3 769.9,1156.1 783.7,1156.1 772.5,1164.7 776.8,1178.5 765.6,1169.9 754.4,1178.5 758.7,1164.7 747.5,1156.1 761.3,1156.1"/>
</g>
<g id="legend">
<g shape-rendering="crispEdges">
<ellipse fill="#ff0000" cx="1031.5" cy="125.0" rx="16.6" ry="16.2"/>
<polygon fill="#9500ff" points="1031.5,246.0 1049.2,267.0 1031.5,288.0 1013.8,267.0"/>
<polygon fill="#008000" points="1045.8,374.5 1050.1,388.3 1063.9,388.3 1052.7,396.9 1057.0,410.7 1045.8,402.1 1034.6,410.7 1038.9,396.9 1027.7,388.3 1041.5,388.3"/>
</g>
<text fill="#ff0000" y="142.9"><tspan x="1092.72" y="142.9" font-size="82">(K, </tspan><tspan x="1211.46" y="142.9" font-size="82">H</tspan><tspan x="1267.81" y="174.9" font-size="54">3</tspan><tspan x="1295.84" y="142.9" font-size="82">O</tspan><tspan x="1353.85" y="142.9" font-size="94">)</tspan><tspan x="1383.39" y="142.9" font-size="82">Fe</tspan><tspan x="1462.76" y="174.9" font-size="54">3</tspan><tspan x="1491.75" y="142.9" font-size="94">(</tspan><tspan x="1521.08" y="142.9" font-size="82">SO</tspan><tspan x="1623.34" y="174.9" font-size="54">4</tspan><tspan x="1650.0" y="142.9" font-size="94">)</tspan><tspan x="1680.7" y="174.9" font-size="54">2</tspan><tspan x="1705.93" y="142.9" font-size="82">(OH)</tspan><tspan x="1875.74" y="174.9" font-size="54">6</tspan></text>
<text fill="#9500ff" y="287.9"><tspan x="1106.24" y="287.9" font-size="82">SiO</tspan><tspan x="1230.93" y="322.2" font-size="53.5">2</tspan></text>
<text fill="#008000" y="423.8"><tspan x="1105.99" y="423.8" font-size="82">CaSO</tspan><tspan x="1297.58" y="460.1" font-size="59">4</tspan><tspan x="1327.19" y="423.8" font-size="82">(H</tspan><tspan x="1410.13" y="460.1" font-size="59">2</tspan><tspan x="1437.91" y="423.8" font-size="82">O)</tspan><tspan x="1522.13" y="460.1" font-size="59">2</tspan></text>
</g>
</svg>
</body>
</html>
